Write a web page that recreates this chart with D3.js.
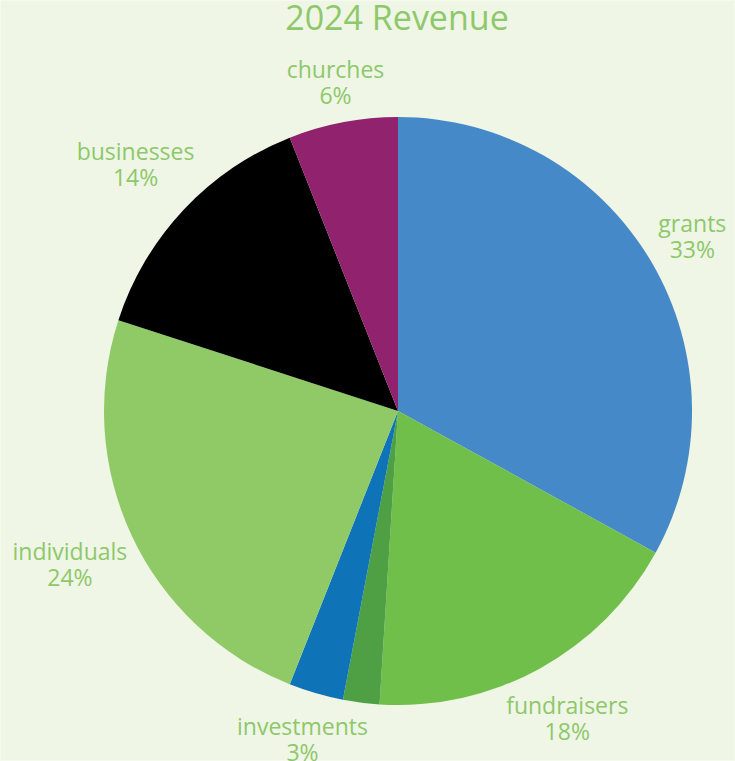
<!DOCTYPE html>
<html>
<head>
<meta charset="utf-8">
<script src="https://cdn.jsdelivr.net/npm/d3@7"></script>
<style>
  html, body { margin: 0; padding: 0; background: #f0f6e6; }
  svg { display: block; font-family: "Open Sans", sans-serif; }
</style>
</head>
<body>
<svg id="chart" width="735" height="761"></svg>
<script>
const categories = ["grants", "fundraisers", "", "investments", "individuals", "businesses", "churches"];
const values = [33, 18, 2, 3, 24, 14, 6];
const colors = ["#4589c8", "#6fbf4a", "#4fa045", "#0e73b7", "#8fca66", "#000000", "#91226e"];
const title = "2024 Revenue";

const data = categories.map((c, i) => ({ name: c, value: values[i], color: colors[i] }));

const svg = d3.select("#chart"),
  width = +svg.attr("width"),
  height = +svg.attr("height");

svg.append("rect")
  .attr("x", 0.5).attr("y", 0.5)
  .attr("width", width - 1).attr("height", height - 1)
  .attr("fill", "#f0f6e6")
  .attr("stroke", "#f4faee");

const cx = 398, cy = 411, radius = 294;
const textColor = "#8dc86a";

svg.append("text")
  .attr("x", 397)
  .attr("y", 30)
  .attr("text-anchor", "middle")
  .attr("fill", textColor)
  .style("font-size", "34px")
  .text(title);

const pie = d3.pie().sort(null).value((d) => d.value);
const arc = d3.arc().innerRadius(0).outerRadius(radius);
const arcs = pie(data);

const g = svg.append("g").attr("transform", "translate(" + cx + "," + cy + ")");

g.selectAll("path")
  .data(arcs)
  .enter()
  .append("path")
  .attr("d", arc)
  .attr("fill", (d) => d.data.color);

// labels outside the pie, pushed out by their own size
const labels = g.selectAll("g.label")
  .data(arcs.filter((d) => d.data.name !== ""))
  .enter()
  .append("g")
  .attr("class", "label");

labels.append("text")
  .attr("class", "name")
  .attr("text-anchor", "middle")
  .attr("fill", textColor)
  .style("font-size", "23px")
  .attr("y", -5)
  .text((d) => d.data.name);

labels.append("text")
  .attr("text-anchor", "middle")
  .attr("fill", textColor)
  .style("font-size", "23px")
  .attr("y", 21)
  .text((d) => d.data.value + "%");

labels.attr("transform", function (d) {
  const w = d3.select(this).select("text.name").node().getComputedTextLength();
  const h = 50;
  const a = (d.startAngle + d.endAngle) / 2;
  const s = Math.sin(a), c = Math.cos(a);
  const r = radius + 6 + Math.abs(s) * w / 2 + Math.abs(c) * h / 2;
  return "translate(" + (s * r) + "," + (-c * r) + ")";
});
</script>
</body>
</html>
